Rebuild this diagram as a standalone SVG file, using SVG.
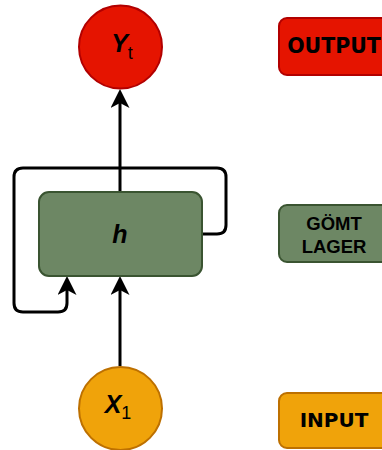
<svg xmlns="http://www.w3.org/2000/svg" width="382" height="450" viewBox="0 0 382 450">
  <style>
    .edge { fill: none; stroke: #000; stroke-width: 3; stroke-linejoin: round; }
    .red { fill: #E51400; stroke: #B20000; stroke-width: 2; }
    .green { fill: #6D8764; stroke: #3A5431; stroke-width: 2; }
    .orange { fill: #F0A30A; stroke: #BD7000; stroke-width: 2; }
    .sym { font-family: "Liberation Sans", Arial, sans-serif; fill: #000; }
    .main { font-size: 25px; font-weight: bold; font-style: italic; }
    .sub { font-size: 18px; }
    .tag { font-family: "DejaVu Sans", sans-serif; font-weight: bold; fill: #000; text-anchor: middle; }
    .tag2 { font-family: "Liberation Sans", Arial, sans-serif; font-weight: bold; fill: #000; text-anchor: middle; font-size: 18.5px; }
  </style>
  <defs>
    <marker id="arrow" viewBox="0 0 19 19" refX="5" refY="9.5" markerWidth="19" markerHeight="19" markerUnits="userSpaceOnUse" orient="auto">
      <path d="M19,9.5 L0,0 L5,9.5 L0,19 Z" fill="#000"/>
    </marker>
  </defs>

  <!-- connectors -->
  <g id="edges">
    <path class="edge" d="M120,192 V103" marker-end="url(#arrow)"/>
    <path class="edge" d="M120,366 V290" marker-end="url(#arrow)"/>
    <path class="edge" d="M202,234 H217 Q226,234 226,225 V177 Q226,168 217,168 H23 Q14,168 14,177 V303 Q14,312 23,312 H58 Q67,312 67,303 V290" marker-end="url(#arrow)"/>
  </g>

  <!-- output node -->
  <g id="node-y">
    <circle class="red" cx="120.5" cy="47" r="41.5"/>
    <text class="sym" x="122" y="52" text-anchor="middle"><tspan class="main">Y</tspan><tspan class="sub" dy="7">t</tspan></text>
  </g>

  <!-- hidden state -->
  <g id="node-h">
    <rect class="green" x="39" y="192" width="163" height="84" rx="10"/>
    <text class="sym main" x="120" y="243" text-anchor="middle">h</text>
  </g>

  <!-- input node -->
  <g id="node-x">
    <circle class="orange" cx="120.5" cy="408.5" r="41.5"/>
    <text class="sym" x="118" y="413" text-anchor="middle"><tspan class="main">X</tspan><tspan class="sub" dy="6">1</tspan></text>
  </g>

  <!-- legend -->
  <g id="legend-output">
    <rect class="red" x="279" y="18" width="120" height="57" rx="8"/>
    <text class="tag" x="334" y="53" font-size="20.5">OUTPUT</text>
  </g>
  <g id="legend-hidden">
    <rect class="green" x="279" y="205" width="120" height="57" rx="8"/>
    <text class="tag2" x="334" y="230">GÖMT</text>
    <text class="tag2" x="334" y="253">LAGER</text>
  </g>
  <g id="legend-input">
    <rect class="orange" x="279" y="393" width="120" height="55" rx="8"/>
    <text class="tag" x="334" y="427" font-size="20">INPUT</text>
  </g>
</svg>
